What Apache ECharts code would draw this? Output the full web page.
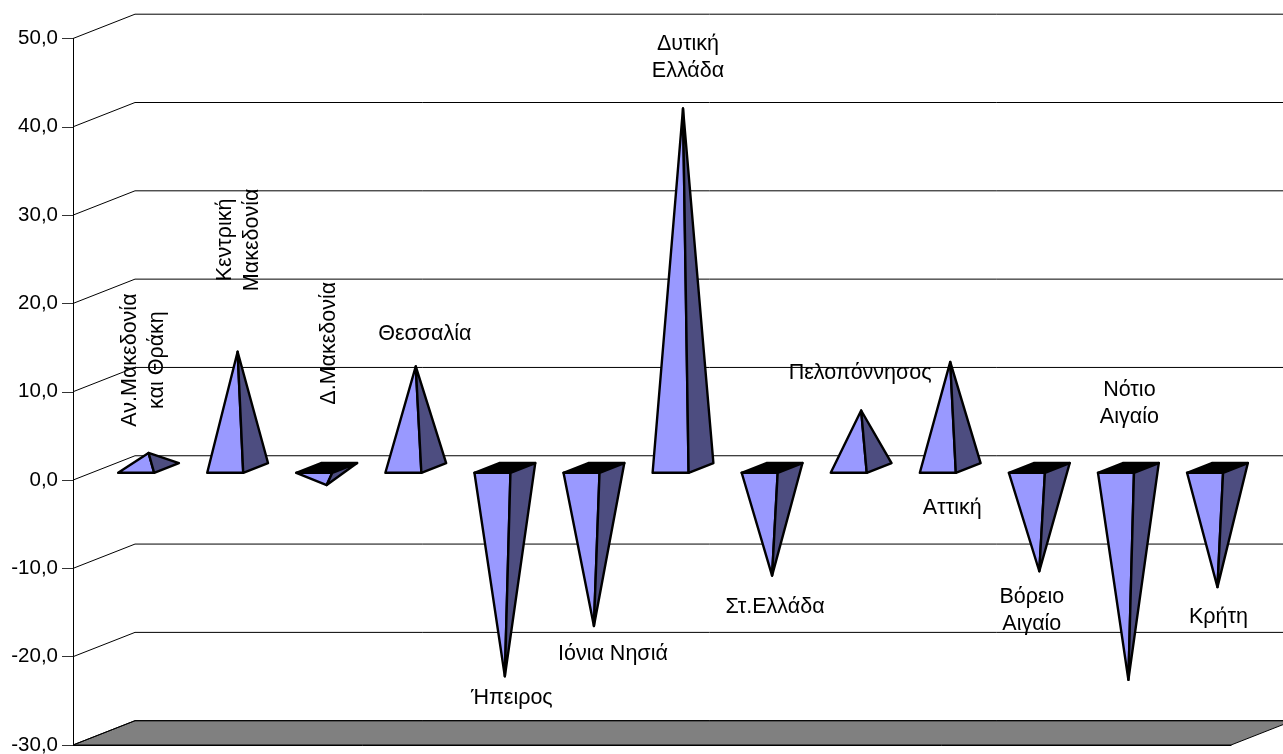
<!DOCTYPE html>
<html><head><meta charset="utf-8">
<style>html,body{margin:0;padding:0;background:#fff}#c{width:1283px;height:754px}</style>
<script src="https://cdn.jsdelivr.net/npm/echarts@6/dist/echarts.min.js"></script>
</head><body><div id="c"></div>
<script>
const categories = ['Αν.Μακεδονία\nκαι Θράκη','Κεντρική\nΜακεδονία','Δ.Μακεδονία','Θεσσαλία','Ήπειρος','Ιόνια Νησιά','Δυτική\nΕλλάδα','Στ.Ελλάδα','Πελοπόννησος','Αττική','Βόρειο\nΑιγαίο','Νότιο\nΑιγαίο','Κρήτη'];
const values = [1.7,13.15,-1.94,11.5,-23.6,-17.9,40.7,-12.2,6.5,12,-11.7,-24,-13.5];
const gridTicks = [50,40,30,20,10,0,-10,-20,-30];

// layout (pixels)
const DEPTH_X = 62, DEPTH_Y = 24.3, FRONT = 0.3, BACK = 0.7, BASE_W = 36;
const FONT = 'Liberation Sans, Arial, sans-serif';
const labelOffsets = [[26.5,-105,90],[32.4,-124,90],[33.3,-154,90],[40,-44,0],[38,10,0],[50,16,0],[36,-63,0],[34,19.5,0],[30,-50,0],[33,134,0],[23.5,27,0],[32,-288,0],[32,18,0]];

const chart = echarts.init(document.getElementById('c'), null, {renderer:'canvas'});
const line = {stroke:'#000', lineWidth:1, fill:null};

chart.setOption({
  animation:false, backgroundColor:'#fff',
  grid:{left:73,right:52,top:38.5,bottom:9,outerBoundsMode:'none'},
  xAxis:{type:'category',data:categories,axisTick:{show:false},axisLabel:{show:false},
    axisLine:{onZero:false,lineStyle:{color:'#000',width:1}}},
  yAxis:{type:'value',min:-30,max:50,interval:10,splitLine:{show:false},
    axisLine:{show:true,lineStyle:{color:'#000',width:1}},
    axisTick:{show:true,length:11,lineStyle:{color:'#333',width:1}},
    axisLabel:{margin:15,color:'#000',fontFamily:FONT,fontSize:20.5,
      formatter:v=>v.toFixed(1).replace('.',',')}},
  series:[
    {type:'custom',silent:true,z:1,data:[[0,gridTicks[gridTicks.length-1]]],
     renderItem(p,api){
       const c=p.coordSys, b=c.y+c.height, r=c.x+c.width;
       return {type:'polygon',shape:{points:[[c.x,b],[c.x+DEPTH_X,b-DEPTH_Y],[r+DEPTH_X,b-DEPTH_Y],[r,b]]},
         style:{fill:'#808080',stroke:'#000',lineWidth:1}};
     }},
    {type:'custom',silent:true,z:2,data:gridTicks.map(t=>[0,t]),
     renderItem(p,api){
       const c=p.coordSys, y=api.coord([0,api.value(1)])[1];
       return {type:'polyline',shape:{points:[[c.x,y],[c.x+DEPTH_X,y-DEPTH_Y],[c.x+c.width+DEPTH_X,y-DEPTH_Y]]},
         style:line};
     }},
    {type:'custom',silent:true,z:3,data:values.map((v,i)=>[i,v]),
     renderItem(p,api){
       const i=api.value(0), v=api.value(1);
       const catW=api.size([1,0])[0], cx=api.coord([i,0])[0]-catW/2, y0=api.coord([i,0])[1];
       const yV=api.coord([i,v])[1];
       const fy=y0-FRONT*DEPTH_Y, by=y0-BACK*DEPTH_Y;
       const fl=cx+catW/2-BASE_W/2+FRONT*DEPTH_X, fr=fl+BASE_W;
       const dx=(BACK-FRONT)*DEPTH_X;
       const FL=[fl,fy],FR=[fr,fy],BR=[fr+dx,by],BL=[fl+dx,by];
       const apex=[(fl+fr)/2+dx/2,yV-DEPTH_Y/2];
       const edge={stroke:'#000',lineWidth:2.4,lineJoin:'round'};
       const kids=[];
       if(v<0) kids.push({type:'polygon',shape:{points:[FL,FR,BR,BL]},style:{fill:'#000',...edge}});
       kids.push({type:'polygon',shape:{points:[FL,FR,apex]},style:{fill:'#9999FF',...edge}});
       kids.push({type:'polygon',shape:{points:[FR,BR,apex]},style:{fill:'#4D4D80',...edge}});
       return {type:'group',children:kids};
     }},
    {type:'custom',silent:true,z:4,data:values.map((v,i)=>[i,v]),
     renderItem(p,api){
       const i=api.value(0), v=api.value(1);
       const pt=api.coord([i,v]), o=labelOffsets[i];
       return {type:'text',x:pt[0]+o[0],y:pt[1]+o[1],rotation:o[2]*Math.PI/180,
         style:{text:categories[i],fill:'#000',font:'21.5px '+FONT,align:'center',verticalAlign:'middle',lineHeight:27}};
     }}
  ]
});
</script></body></html>
